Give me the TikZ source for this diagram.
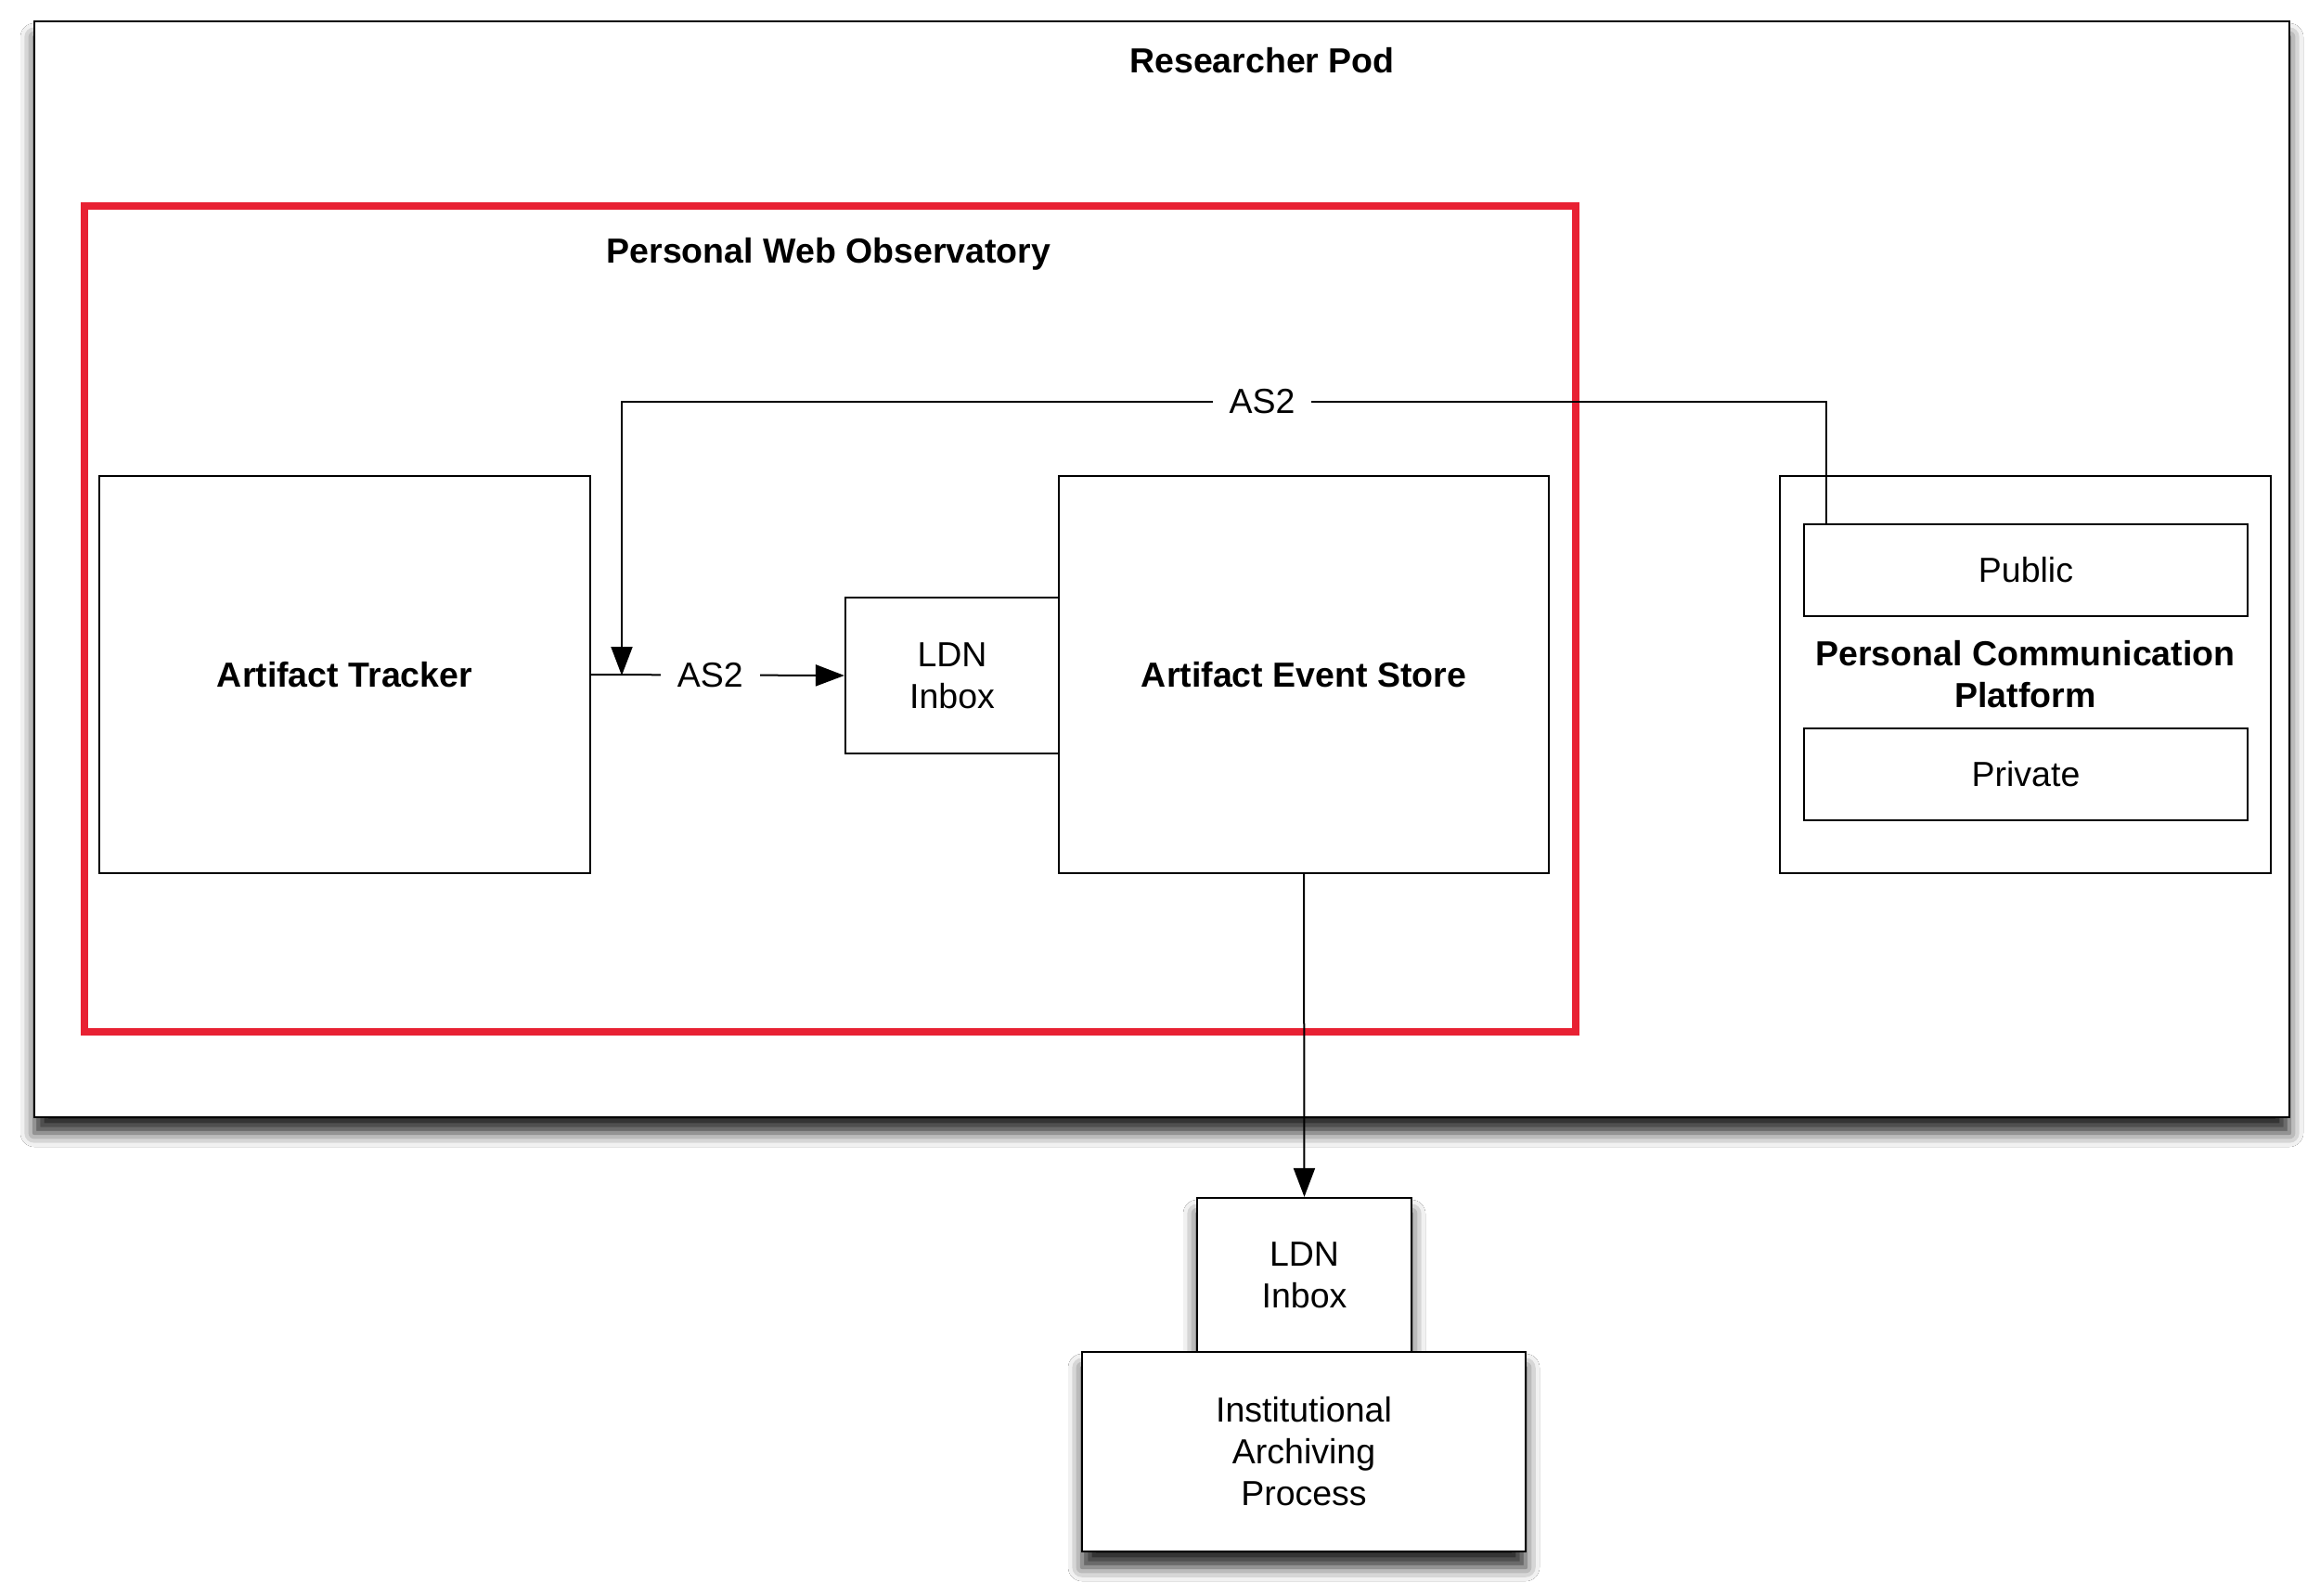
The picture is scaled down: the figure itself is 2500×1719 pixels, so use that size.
\documentclass[tikz,border=0pt]{standalone}
\usepackage{fontspec}
\setmainfont{Liberation Sans}
\usetikzlibrary{arrows.meta,shadows.blur}
\definecolor{pwored}{RGB}{232,33,51}
\begin{document}
\begin{tikzpicture}[x=1pt,y=-1pt,
  btxt/.style={font=\fontsize{37.5}{45}\selectfont\bfseries, align=center},
  box/.style={draw, line width=2.2pt, fill=white, inner sep=0pt, align=center, font=\fontsize{37.5}{45}\selectfont},
  bbox/.style={box, font=\fontsize{37.5}{45}\selectfont\bfseries},
  shad/.style={blur shadow={shadow xshift=0pt, shadow yshift=-17pt, shadow blur radius=15pt, shadow opacity=85}},
  conn/.style={line width=2pt},
  tip/.style={-{Triangle[length=31pt,width=23pt]}},
  lbl/.style={fill=white, inner xsep=18pt, inner ysep=4pt, font=\fontsize{37.5}{45}\selectfont}
]
\useasboundingbox (0,0) rectangle (2500,1719);
\fill[white] (0,0) rectangle (2500,1719);

% Researcher Pod
\node[draw, line width=2.6pt, fill=white, shad, minimum width=2430pt, minimum height=1181pt, inner sep=0pt] (pod) at (1252,613.5) {};
\node[btxt] (podlbl) at (1360,65) {Researcher Pod};

% Personal Web Observatory
\node[draw=pwored, line width=8.5pt, minimum width=1607pt, minimum height=890pt, inner sep=0pt] (pwo) at (894.5,667) {};
\node[btxt] (pwolbl) at (893,274) {Personal Web Observatory};

% inner boxes
\node[bbox, minimum width=529pt, minimum height=428pt] (tracker) at (371.5,727) {Artifact Tracker};
\node[bbox, minimum width=528pt, minimum height=428pt] (aes) at (1405,727) {Artifact Event Store};
\node[box, minimum width=230pt, minimum height=168pt] (ldn1) at (1026,728) {LDN\\Inbox};

% Personal Communication Platform
\node[bbox, minimum width=529pt, minimum height=428pt] (pcp) at (2182.5,727) {Personal Communication\\Platform};
\node[box, minimum width=478pt, minimum height=99pt] (public) at (2183,614.5) {Public};
\node[box, minimum width=478pt, minimum height=99pt] (private) at (2183,834.5) {Private};

% Institutional side
\node[box, shad, minimum width=231pt, minimum height=166pt] (ldn2) at (1405.5,1374) {LDN\\Inbox};
\node[box, shad, minimum width=478pt, minimum height=215pt] (iap) at (1405,1564.5) {Institutional\\Archiving\\Process};

% connectors
\coordinate (tap) at (1968,565);
\coordinate (join) at (670,728);
\draw[conn, tip] (tap) -- ++(0,-132) -| (join);
\node[lbl] (as2top) at (1360,433) {AS2};
\draw[conn, tip] (tracker.east) -- node[lbl, pos=0.47] (as2low) {AS2} (ldn1.west);
\draw[conn, tip] (aes.south) -- (ldn2.north);
\end{tikzpicture}
\end{document}
